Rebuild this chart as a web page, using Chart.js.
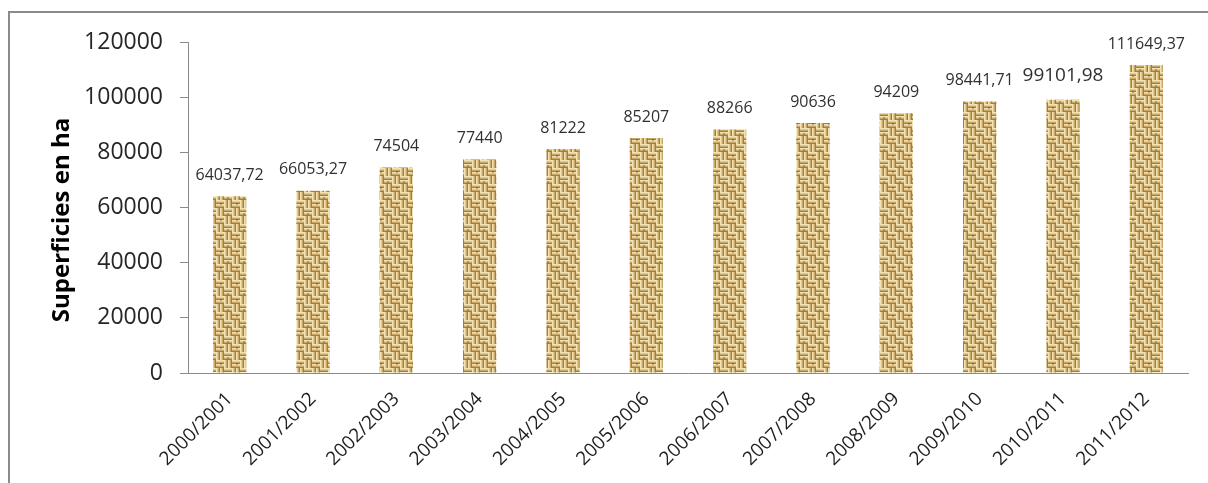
<!DOCTYPE html>
<html>
<head>
<meta charset="utf-8">
<script src="https://cdn.jsdelivr.net/npm/chart.js@4.4.0/dist/chart.umd.min.js"></script>
<style>
  html, body { margin: 0; padding: 0; background: #fff; overflow: hidden; }
  #wrap { position: relative; width: 1208px; height: 483px; }
  #frame { position: absolute; left: 8px; top: 11px; width: 1400px; height: 600px;
           border: 2px solid #8a8a8a; pointer-events: none; }
</style>
</head>
<body>
<div id="wrap">
  <canvas id="chart" width="1208" height="483"></canvas>
  <div id="frame"></div>
</div>
<script>
const campaigns = ["2000/2001", "2001/2002", "2002/2003", "2003/2004", "2004/2005", "2005/2006",
                   "2006/2007", "2007/2008", "2008/2009", "2009/2010", "2010/2011", "2011/2012"];
const surfaces = [64037.72, 66053.27, 74504, 77440, 81222, 85207, 88266, 90636, 94209, 98441.71, 99101.98, 111649.37];
const surfaceLabels = ["64037,72", "66053,27", "74504", "77440", "81222", "85207",
                       "88266", "90636", "94209", "98441,71", "99101,98", "111649,37"];
const yTicks = [0, 20000, 40000, 60000, 80000, 100000, 120000];
const yTitle = "Superficies en ha";

// burlap-like woven tile used to fill the bars
const makeBurlap = () => {
    const tile = document.createElement("canvas");
    const B = 8;
    tile.width = B * 2;
    tile.height = B * 2;
    const c = tile.getContext("2d");
    const shades = ["#f2e3b5", "#e2cb91", "#c9a766", "#a17d41"];
    for (let by = 0; by < 2; by++) {
        for (let bx = 0; bx < 2; bx++) {
            const horiz = (bx + by) % 2 === 0;
            for (let s = 0; s < 2; s++) {
                for (let p = 0; p < 4; p++) {
                    c.fillStyle = shades[p];
                    if (horiz) c.fillRect(bx * B, by * B + s * 4 + p, B, 1);
                    else c.fillRect(bx * B + s * 4 + p, by * B, 1, B);
                }
            }
        }
    }
    c.fillStyle = "rgba(110,80,30,0.4)";
    c.fillRect(3, 5, 2, 2);
    c.fillRect(12, 11, 2, 2);
    return tile;
};

const ctx = document.getElementById("chart").getContext("2d");
const burlap = ctx.createPattern(makeBurlap(), "repeat");

const valueLabels = {
    id: "valueLabels",
    afterDatasetsDraw(chart) {
        const c = chart.ctx;
        const meta = chart.getDatasetMeta(0);
        c.save();
        c.fillStyle = "#303030";
        c.textAlign = "center";
        c.textBaseline = "middle";
        meta.data.forEach((bar, i) => {
            const size = i === 10 ? 19 : 16;
            c.font = size + "px 'Open Sans'";
            c.fillText(surfaceLabels[i], bar.x, bar.y - (i === 10 ? 24 : 21));
        });
        // y axis title
        c.font = "bold 24px 'Open Sans'";
        c.fillStyle = "#000";
        c.translate(62, 220);
        c.rotate(-Math.PI / 2);
        c.fillText(yTitle, 0, 0);
        c.restore();
    }
};

new Chart(ctx, {
    type: "bar",
    data: {
        labels: campaigns,
        datasets: [{
            data: surfaces,
            backgroundColor: burlap,
            borderWidth: 0,
            barPercentage: 0.4,
            categoryPercentage: 1.0
        }]
    },
    options: {
        responsive: false,
        animation: false,
        layout: { padding: { top: 42, right: 20, left: 0, bottom: 0 } },
        plugins: {
            legend: { display: false },
            tooltip: { enabled: false }
        },
        scales: {
            x: {
                grid: { display: false },
                border: { display: true, color: "#8a8a8a", width: 1 },
                ticks: {
                    color: "#1e1e1e",
                    font: { family: "Open Sans", size: 19 },
                    minRotation: 45,
                    maxRotation: 45,
                    padding: 7
                },
                afterFit: scale => { scale.height = 110; }
            },
            y: {
                min: 0,
                max: 120000,
                afterBuildTicks: scale => { scale.ticks = yTicks.map(v => ({ value: v })); },
                grid: { drawOnChartArea: false, drawTicks: true, tickLength: 8, color: "#8a8a8a" },
                border: { display: true, color: "#8a8a8a", width: 1 },
                ticks: {
                    color: "#262626",
                    font: { family: "Open Sans", size: 23 },
                    padding: 17,
                    callback: v => String(v)
                },
                afterFit: scale => { scale.width = 188; }
            }
        }
    },
    plugins: [valueLabels]
});
</script>
</body>
</html>
